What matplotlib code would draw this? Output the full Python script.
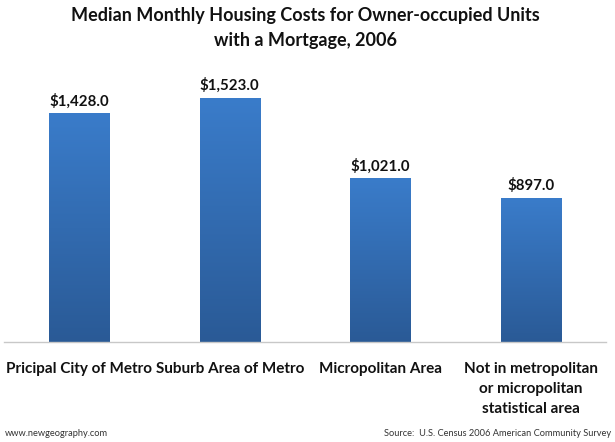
import numpy as np
import matplotlib
matplotlib.use("Agg")
import matplotlib.pyplot as plt
from matplotlib.colors import LinearSegmentedColormap

categories = ["Pricipal City of Metro", "Suburb Area of Metro", "Micropolitan Area",
              "Not in metropolitan\nor micropolitan\nstatistical area"]
values = [1428.0, 1523.0, 1021.0, 897.0]
title = "Median Monthly Housing Costs for Owner-occupied Units\nwith a Mortgage, 2006"
left_note = "www.newgeography.com"
right_note = "Source:  U.S. Census 2006 American Community Survey"

W, H = 615, 442
plt.rcParams['font.family'] = ['Lato', 'DejaVu Sans']
fig = plt.figure(figsize=(W/100, H/100), dpi=100, facecolor='white')
ax = fig.add_axes([4/W, 1-342/H, 602/W, 244/H])
cmap = LinearSegmentedColormap.from_list("b", ["#2a5a96", "#3a7cca"])
grad = np.linspace(0, 1, 256).reshape(-1, 1)
bars = ax.bar(range(4), values, width=0.4, color='none', edgecolor='none')
for b, v, i in zip(bars, values, range(4)):
    x0, w = b.get_x(), b.get_width()
    ax.imshow(grad, origin='lower', aspect='auto', cmap=cmap, vmin=0, vmax=1,
              extent=(x0, x0+w, 0, v), zorder=2)
    ax.annotate(f"${v:,.1f}", (i, v), xytext=(0, 3.5), textcoords='offset points',
                ha='center', va='bottom', fontsize=10.8, fontweight='bold', color='#111111')
ax.set_xlim(-0.5, 3.5)
ax.set_ylim(0, 1523)
for s in ['top', 'left', 'right']:
    ax.spines[s].set_visible(False)
ax.spines['bottom'].set_color('#c8c8c8')
ax.spines['bottom'].set_linewidth(1)
ax.patch.set_alpha(0)
ax.set_yticks([])
ax.set_xticks(range(4))
ax.set_xticklabels(categories, fontsize=11, fontweight='bold', color='#111111', linespacing=1.55)
ax.tick_params(axis='x', length=0, pad=14.5)

fig.text(305/W, 1-7/H, title, ha='center', va='top', fontsize=13, fontweight='bold',
         color='#111111', linespacing=1.55)
fig.text(5/W, 1-433/H, left_note, ha='left', va='center', fontsize=6.7, color='#333333')
fig.text(611/W, 1-433/H, right_note, ha='right', va='center', fontsize=6.7, color='#333333')
fig.savefig("out.png", dpi=100)
